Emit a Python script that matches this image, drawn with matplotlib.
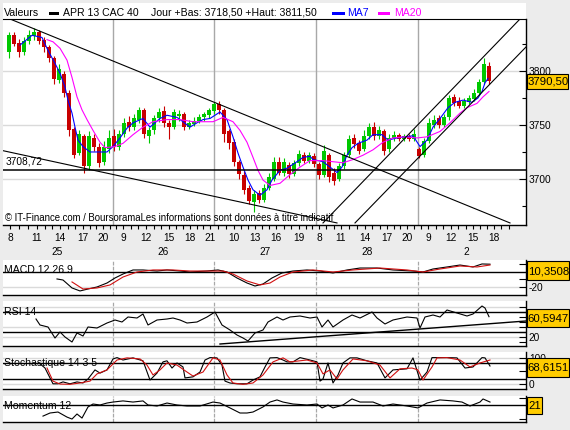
import matplotlib
matplotlib.use("Agg")
import matplotlib.pyplot as plt
from matplotlib.patches import Rectangle

plt.rcParams["font.family"] = ["Liberation Sans", "DejaVu Sans"]

W, H = 570, 430
GREEN = "#00C800"
RED = "#C80000"
GOLD = "#FFCC00"
BG = "#ECECEC"
FS = 7.3

# ---- intraday candles (one slot per candle) ----
opens = [3818, 3833, 3826, 3818, 3828, 3832, 3836, 3829, 3822, 3812,
         3792, 3797, 3780, 3746, 3724, 3740, 3712, 3738, 3730, 3716,
         3728, 3740, 3730, 3742, 3753, 3748, 3755, 3764, 3740, 3745,
         3756, 3763, 3752, 3748, 3758, 3760, 3748, 3751, 3754, 3757,
         3759, 3763, 3769, 3764, 3744, 3734, 3716, 3704, 3692, 3679,
         3687, 3681, 3692, 3700, 3716, 3706, 3713, 3705, 3715, 3722,
         3717, 3721, 3714, 3704, 3722, 3706, 3700, 3712, 3722, 3738,
         3733, 3728, 3740, 3748, 3740, 3744, 3728, 3738, 3741, 3737,
         3740, 3737, 3728, 3722, 3735, 3750, 3756, 3750, 3757, 3776,
         3772, 3768, 3771, 3774, 3780, 3790, 3805]
closes = [3833, 3825, 3818, 3828, 3833, 3836, 3828, 3822, 3812, 3793,
          3802, 3780, 3745, 3722, 3742, 3712, 3740, 3730, 3715, 3730,
          3738, 3730, 3742, 3752, 3748, 3756, 3764, 3742, 3745, 3756,
          3762, 3752, 3748, 3762, 3760, 3748, 3752, 3754, 3757, 3760,
          3764, 3769, 3764, 3742, 3733, 3716, 3705, 3690, 3680, 3686,
          3681, 3692, 3702, 3716, 3706, 3716, 3705, 3715, 3723, 3717,
          3722, 3714, 3704, 3726, 3702, 3698, 3712, 3722, 3737, 3732,
          3726, 3740, 3748, 3740, 3745, 3726, 3738, 3741, 3737, 3740,
          3737, 3742, 3721, 3735, 3752, 3755, 3750, 3757, 3775, 3770,
          3768, 3772, 3775, 3780, 3790, 3806, 3790.5]
highs = [3836, 3836, 3830, 3831, 3838, 3840, 3838, 3831, 3824, 3814,
         3806, 3800, 3782, 3748, 3745, 3742, 3744, 3742, 3733, 3735,
         3745, 3746, 3745, 3756, 3758, 3760, 3767, 3766, 3748, 3759,
         3766, 3768, 3755, 3765, 3764, 3762, 3755, 3757, 3760, 3762,
         3766, 3771, 3772, 3766, 3746, 3737, 3718, 3707, 3694, 3690,
         3690, 3695, 3706, 3720, 3720, 3719, 3716, 3718, 3727, 3725,
         3725, 3724, 3716, 3731, 3724, 3710, 3715, 3725, 3741, 3742,
         3736, 3745, 3752, 3753, 3749, 3746, 3742, 3744, 3743, 3742,
         3742, 3746, 3730, 3738, 3756, 3759, 3759, 3760, 3778, 3779,
         3776, 3775, 3778, 3783, 3793, 3812, 3808]
lows = [3812, 3823, 3813, 3815, 3825, 3829, 3825, 3818, 3808, 3788,
        3789, 3776, 3740, 3719, 3722, 3706, 3708, 3726, 3711, 3713,
        3724, 3726, 3727, 3739, 3744, 3745, 3752, 3738, 3733, 3742,
        3753, 3748, 3737, 3746, 3754, 3745, 3746, 3749, 3752, 3754,
        3756, 3760, 3760, 3734, 3728, 3712, 3700, 3686, 3677, 3669,
        3678, 3679, 3690, 3698, 3704, 3703, 3701, 3703, 3712, 3715,
        3715, 3711, 3700, 3702, 3697, 3694, 3698, 3709, 3720, 3729,
        3723, 3726, 3737, 3736, 3737, 3722, 3725, 3735, 3735, 3735,
        3735, 3735, 3719, 3720, 3733, 3747, 3747, 3748, 3755, 3768,
        3766, 3766, 3769, 3772, 3778, 3788, 3788]

# ---- moving averages ----
ma7_x = [2.2, 4.6, 6.6, 7.8, 9.2, 10.2, 11.2, 11.8, 12.6, 13.2, 13.8, 14.8, 16.2, 18.2,
         19.6, 20.8, 22.2, 23.6, 24.8, 26.8, 28.2, 29.2, 30.2, 31.6, 33.6, 34.8, 36.2,
         37.6, 38.8, 40.2, 42.2, 43.6, 44.8, 45.8, 46.8, 47.8, 48.8, 50.2, 51.6, 52.6,
         54.2, 55.6, 57.6, 58.8, 60.2, 60.8, 62.8, 64.2, 65.6, 66.6, 67.6, 68.6, 69.8,
         71.6, 72.8, 74.6, 75.8, 77.6, 79.2, 80.8, 82.2, 83.6, 84.8, 86.2, 87.8, 89.2,
         90.8, 92.6, 93.8, 94.6, 95.2, 95.8]
ma7 = [3824, 3833, 3831, 3819, 3807, 3798, 3785, 3773, 3761, 3748, 3736, 3730, 3725,
       3725, 3725, 3730, 3738, 3747, 3752, 3756, 3748, 3752, 3756, 3759, 3757, 3753,
       3748, 3752, 3755, 3756, 3762, 3755, 3739, 3724, 3711, 3699, 3690, 3685, 3690,
       3699, 3708, 3710, 3716, 3720, 3721, 3718, 3716, 3711, 3706, 3711, 3722, 3729,
       3733, 3736, 3741, 3741, 3736, 3738, 3739, 3740, 3730, 3736, 3748, 3756, 3766,
       3771, 3773, 3771, 3775, 3781, 3789, 3793]
ma20_x = [7.6, 8.8, 10.2, 11.6, 12.6, 13.6, 14.6, 15.6, 16.8, 18.2, 19.2, 21.2, 22.8,
          24.8, 26.8, 28.8, 31.6, 34.2, 36.8, 40.8, 42.8, 44.8, 46.2, 47.6, 48.8, 49.8,
          50.8, 52.2, 54.2, 56.2, 58.2, 60.2, 62.8, 64.8, 66.8, 68.8, 70.8, 72.8, 74.8,
          76.8, 79.2, 81.6, 83.6, 86.2, 88.2, 90.2, 91.6, 93.6, 94.8, 96.0]
ma20 = [3829, 3827, 3821, 3810, 3794, 3776, 3764, 3755, 3745, 3734, 3729, 3730, 3733,
        3741, 3748, 3753, 3755, 3755, 3753, 3753, 3757, 3753, 3745, 3734, 3720, 3708,
        3699, 3694, 3696, 3704, 3711, 3717, 3717, 3716, 3715, 3718, 3722, 3727, 3734,
        3738, 3739, 3738, 3739, 3744, 3752, 3761, 3766, 3770, 3776, 3781]

# ---- drawn lines: (x0, y0, x1, y1) ----
trend_lines = [(0.2, 3848.1, 100.2, 3659.3),
               (-1.2, 3726.2, 65.6, 3659.3),
               (62.8, 3659.3, 102.2, 3848.1),
               (69.2, 3659.3, 103.4, 3822.2)]
support = 3708.72

# ---- axis labels ----
hour_pos = [0.2, 5.6, 10.2, 14.8, 18.8, 22.8, 27.4, 32.0, 36.2, 40.2, 45.0, 49.2,
            53.4, 58.0, 62.0, 66.4, 71.2, 75.6, 79.6, 83.8, 88.4, 92.8, 97.0]
hour_lab = ["8", "11", "14", "17", "20", "9", "12", "15", "18", "21", "10", "13",
            "16", "19", "8", "11", "14", "17", "20", "9", "12", "15", "18"]
day_pos = [9.6, 30.8, 51.2, 71.6, 91.4]
day_lab = ["25", "26", "27", "28", "2"]
day_bounds = [20.8, 41.0, 61.4, 81.8]

# ---- MACD 12 26 9 ----
macd_x = [9.6, 10.8, 12.6, 14.2, 15.8, 17.6, 19.6, 21.2, 22.8, 24.8, 26.8, 29.6, 31.6,
          34.2, 36.2, 39.6, 41.8, 43.6, 45.6, 47.6, 49.2, 50.8, 52.6, 54.6, 56.8, 59.6,
          62.2, 64.8, 67.6, 70.2, 73.6, 76.8, 80.8, 82.8, 84.8, 87.6, 90.2, 92.8, 94.6, 96.2]
macd = [-9.3, -10.7, -21.3, -25.3, -22.7, -20, -14.7, -8, -2.7, 2.7, 2.7, 1.3, 2.7,
        1.3, 0, 1.3, 2.7, 0, -8, -14.7, -18.7, -16, -8, -1.3, 1.3, 2.7,
        1.3, -1.3, 2.7, 5.3, 5.3, 2.7, 1.3, 0, 4, 6.7, 9.3, 6.7, 10.7, 10.4]
signal_x = [12.6, 14.8, 17.6, 20.2, 22.8, 25.6, 28.8, 32.8, 36.2, 39.6, 42.8, 44.8, 47.6,
            50.2, 52.2, 54.2, 56.8, 60.8, 64.8, 68.8, 74.2, 79.6, 82.8, 86.2, 90.2, 93.6, 96.2]
signal = [-13.3, -22.7, -21.3, -17.3, -6.7, 0, 2.7, 2.7, 1.3, 1.3, 1.3, -2.7, -12,
          -17.3, -14.7, -6.7, 0, 2.7, 0, 2.7, 5.3, 2.7, 0, 4, 8, 6.7, 9.3]

# ---- RSI 14 ----
rsi_x = [5.4, 6.2, 7.8, 9.2, 10.2, 11.2, 12.6, 13.6, 14.8, 15.8, 17.6, 19.6, 21.2, 22.6,
         23.8, 25.6, 26.8, 27.8, 29.6, 31.6, 32.8, 34.2, 35.6, 37.6, 39.6, 41.2, 42.6,
         44.2, 45.6, 46.8, 47.8, 49.2, 50.8, 51.8, 53.6, 54.8, 56.2, 58.2, 60.2, 61.6,
         62.6, 63.8, 64.8, 66.8, 68.6, 70.2, 72.6, 73.6, 75.2, 76.8, 79.6, 81.6, 82.2,
         83.2, 84.8, 86.2, 87.6, 89.6, 91.6, 92.8, 94.6, 95.2, 96.0]
rsi = [56, 44, 40, 18, 30, 20, 10, 28, 22, 40, 38, 48, 54, 50,
       60, 58, 66, 44, 54, 56, 58, 54, 48, 50, 60, 70, 44,
       34, 24, 18, 12, 28, 34, 50, 60, 54, 60, 62, 58, 60,
       40, 54, 40, 54, 64, 58, 70, 58, 46, 54, 60, 58, 38,
       60, 64, 60, 74, 68, 62, 66, 82, 78, 60.6]
rsi_trend = (42.2, 6, 103.4, 52)

# ---- Stochastique 14 3 5 ----
stk_x = [6.0, 7.2, 8.2, 8.8, 9.8, 10.8, 12.2, 13.6, 14.8, 15.8, 17.2, 18.2, 19.6, 20.8,
         21.6, 22.8, 24.8, 26.8, 28.2, 29.6, 30.8, 31.6, 32.6, 33.6, 34.8, 35.2, 36.8,
         38.2, 39.2, 40.2, 41.6, 42.6, 43.2, 44.2, 45.6, 47.6, 48.8, 50.2, 51.2, 52.2,
         53.6, 54.8, 55.6, 56.8, 58.2, 60.2, 61.6, 62.2, 62.8, 63.8, 64.8, 65.8, 66.8,
         68.2, 69.6, 71.6, 73.6, 75.2, 76.8, 79.6, 80.8, 82.2, 83.6, 84.6, 86.2, 87.6,
         89.6, 91.2, 92.8, 94.6, 95.2, 96.2]
stk = [80, 61, 24, 2, 2, 9, 2, 9, 5, 20, 54, 42, 54, 95,
       100, 91, 99, 88, 16, 42, 84, 88, 61, 80, 65, 24, 28,
       46, 91, 100, 99, 72, 12, 5, 2, 2, 16, 28, 65, 99,
       100, 91, 84, 84, 100, 91, 84, 12, 20, 80, 5, 35, 80,
       99, 99, 88, 80, 24, 54, 58, 99, 16, 46, 100, 100, 100,
       99, 61, 65, 100, 99, 68.6]
std_x = [7.6, 8.8, 10.2, 12.2, 14.2, 16.2, 17.6, 19.6, 21.6, 23.6, 26.2, 27.6, 28.8,
         30.2, 31.6, 33.6, 35.6, 36.8, 38.8, 40.8, 42.2, 43.6, 44.8, 46.8, 48.8, 50.8,
         52.8, 54.8, 56.2, 59.6, 61.6, 62.8, 64.2, 65.6, 66.8, 68.8, 71.6, 74.2, 76.2,
         78.2, 80.6, 81.8, 82.8, 84.6, 85.6, 87.6, 90.2, 92.2, 94.2, 96.2]
std = [61, 12, 1, 0, 5, 12, 39, 54, 91, 99, 95, 72, 35,
       54, 80, 72, 46, 31, 46, 99, 91, 35, 5, 0, 5, 35,
       84, 99, 84, 91, 80, 39, 54, 20, 54, 95, 88, 72, 24,
       58, 61, 54, 16, 65, 99, 100, 91, 65, 80, 91]

# ---- Momentum 12 ----
mom_x = [6.8, 8.2, 9.8, 11.6, 12.6, 13.6, 14.6, 15.8, 16.8, 18.2, 19.6, 20.8, 22.8,
         24.8, 26.8, 27.8, 29.6, 31.6, 33.6, 35.6, 38.2, 40.8, 42.2, 44.2, 46.2, 47.6,
         48.8, 50.8, 52.2, 53.6, 54.8, 56.8, 59.6, 61.6, 62.6, 63.8, 64.8, 66.8, 68.6,
         70.2, 72.8, 74.8, 76.8, 79.6, 81.8, 83.6, 86.2, 88.8, 90.6, 92.2, 94.2, 94.8, 96.2]
mom = [-79, -57, -50, -86, -100, -64, -93, -14, 7, 0, 14, 21, 29,
       21, 29, 0, -7, 14, 0, -7, -7, 21, 14, -21, -57, -57,
       -50, -14, 21, 36, 21, 7, 0, 7, -21, 0, -21, 0, 43,
       21, 21, -7, 7, -7, -21, 14, 36, 29, 21, -7, 21, 43, 21]

XMIN, XMAX = -1.2, 103.4

fig = plt.figure(figsize=(W / 100, H / 100), dpi=100, facecolor=BG)


def px_axes(x0, y0, x1, y1):
    return fig.add_axes([x0 / W, 1 - y1 / H, (x1 - x0) / W, (y1 - y0) / H])


def ftext(x, y, s, **kw):
    kw.setdefault("fontsize", FS)
    return fig.text(x / W, 1 - y / H, s, **kw)


def frect(x0, y0, x1, y1, **kw):
    fig.add_artist(Rectangle((x0 / W, 1 - y1 / H), (x1 - x0) / W, (y1 - y0) / H,
                             transform=fig.transFigure, **kw))


def value_box(x0, y0, x1, y1, s):
    frect(x0, y0, x1, y1, fc=GOLD, ec="black", lw=0.8, zorder=5)
    ftext((x0 + x1) / 2 + 0.5, (y0 + y1) / 2 + 0.5, s, ha="center", va="center",
          fontsize=8.2, zorder=6)


def style(a):
    a.set_xlim(XMIN, XMAX)
    for s in ("left", "top"):
        a.spines[s].set_visible(False)
    for s in ("right", "bottom"):
        a.spines[s].set_linewidth(1.0)
    a.yaxis.tick_right()
    a.tick_params(axis="y", which="both", direction="in", labelsize=FS, pad=2,
                  width=0.8)
    a.tick_params(axis="y", which="major", length=5)
    a.tick_params(axis="y", which="minor", length=3)


# white title strip
frect(3, 3, 526, 19, fc="white", ec="none", zorder=0)

# ========== main price panel ==========
ax = px_axes(3, 19, 526, 225)
style(ax)
ax.spines["top"].set_visible(True)
ax.set_ylim(3657.4, 3848.1)
for lvl in (3700, 3750, 3800):
    ax.axhline(lvl, color="#DADADA", lw=1.0, zorder=0)
for d in day_bounds:
    ax.axvline(d, color="#A8A8A8", lw=1.0, zorder=0)

xs = list(range(len(opens)))
cols = [GREEN if c >= o else RED for o, c in zip(opens, closes)]
ax.vlines(xs, lows, highs, colors=cols, lw=0.8, zorder=2)
ax.bar(xs, [max(abs(c - o), 0.8) for o, c in zip(opens, closes)],
       bottom=[min(o, c) for o, c in zip(opens, closes)], width=0.62,
       color=cols, zorder=2)
ax.plot(ma7_x, ma7, color="#0000FF", lw=0.8, zorder=3)
ax.plot(ma20_x, ma20, color="#FF00FF", lw=0.8, zorder=3)
for x0, y0, x1, y1 in trend_lines:
    ax.plot([x0, x1], [y0, y1], color="black", lw=0.8, zorder=4)
ax.axhline(support, color="black", lw=1.1, zorder=4)
ax.text(0.004, support + 3, "3708,72", transform=ax.get_yaxis_transform(),
        fontsize=FS, va="bottom", ha="left")
ax.text(0.004, 0.035, "\u00a9 IT-Finance.com / BoursoramaLes informations sont "
        "données à titre indicatif", transform=ax.transAxes, fontsize=6.9,
        va="center", ha="left", zorder=5)

ax.set_yticks([3700, 3750, 3800], ["3700", "3750", "3800"])
ax.set_yticks([3675, 3725, 3775, 3825], minor=True)
ax.set_xticks(hour_pos, hour_lab)
minor_x = []
for a, b in zip(hour_pos[:-1], hour_pos[1:]):
    minor_x += [a + (b - a) / 3, a + 2 * (b - a) / 3]
minor_x += [hour_pos[-1] + 1.5, hour_pos[-1] + 3.0]
ax.set_xticks(minor_x, minor=True)
ax.tick_params(axis="x", which="both", direction="out", length=3, width=0.8,
               labelsize=FS, pad=3)
for p, lab in zip(day_pos, day_lab):
    ax.text(p, -0.13, lab, transform=ax.get_xaxis_transform(), fontsize=FS,
            ha="center", va="center")

# title row
TS = 7.6
ftext(4, 12.5, "Valeurs", va="center", fontsize=TS)
frect(49, 12, 59, 15, fc="black", ec="none", zorder=3)
ftext(63, 12.5, "APR 13 CAC 40", va="center", fontsize=TS)
ftext(151, 12.5, "Jour +Bas: 3718,50 +Haut: 3811,50", va="center", fontsize=TS)
frect(332, 12, 345, 15, fc="#0000FF", ec="none", zorder=3)
ftext(347, 12.5, "MA7", va="center", color="#0000FF", fontsize=TS)
frect(378, 12, 390, 15, fc="#FF00FF", ec="none", zorder=3)
ftext(394, 12.5, "MA20", va="center", color="#FF00FF", fontsize=TS)

value_box(527, 74, 568, 89, "3790,50")


def indicator(y0, y1, ylim, name, name_y):
    a = px_axes(3, y0, 526, y1)
    style(a)
    a.set_ylim(*ylim)
    a.set_xticks([])
    for d in day_bounds:
        a.axvline(d, color="#A8A8A8", lw=0.9, ls=(0, (3, 1)), zorder=0)
    ftext(4, name_y, name, va="center", zorder=6, fontsize=7.6)
    return a


# ========== MACD ==========
am = indicator(260, 295, (-30.7, 16), "MACD 12 26 9", 270)
am.axhline(-20, color="#DADADA", lw=1.0, zorder=0)
am.axhline(0, color="black", lw=1.0, zorder=1)
am.plot(macd_x, macd, color="black", lw=0.8, zorder=3)
am.plot(signal_x, signal, color="#D01010", lw=0.8, zorder=3)
am.set_yticks([10, -10, -20], ["", "", "-20"])
value_box(527, 261, 569, 280, "10,3508")

# ========== RSI ==========
ar = indicator(301, 346, (2, 92), "RSI 14", 312)
for lvl in (80, 40, 20):
    ar.axhline(lvl, color="#DADADA", lw=1.0, zorder=0)
for lvl in (70, 30):
    ar.axhline(lvl, color="black", lw=1.0, zorder=1)
ar.plot(rsi_x, rsi, color="black", lw=0.8, zorder=3)
ar.plot([rsi_trend[0], rsi_trend[2]], [rsi_trend[1], rsi_trend[3]], color="black",
        lw=1.0, zorder=3)
ar.set_yticks([80, 70, 60, 50, 40, 30, 20, 10],
              ["", "", "", "", "", "", "20", ""])
value_box(527, 309, 569, 327, "60,5947")

# ========== Stochastique ==========
asto = indicator(352, 389, (-17.5, 121), "Stochastique 14 3 5", 363)
for lvl in (100, 0):
    asto.axhline(lvl, color="#DADADA", lw=1.0, zorder=0)
for lvl in (80, 20):
    asto.axhline(lvl, color="black", lw=1.0, zorder=1)
asto.plot(stk_x, stk, color="black", lw=0.8, zorder=3)
asto.plot(std_x, std, color="#D01010", lw=0.8, zorder=3)
asto.set_yticks([100, 50, 0], ["100", "", "0"])
value_box(527, 358, 569, 377, "68,6151")

# ========== Momentum ==========
amo = indicator(396, 422, (-121, 64), "Momentum 12", 406)
amo.axhline(0, color="black", lw=1.0, zorder=1)
amo.plot(mom_x, mom, color="black", lw=0.8, zorder=3)
amo.set_yticks([50, -100], ["", ""])
value_box(527, 397, 542, 414, "21")

fig.savefig("out.png", dpi=100, facecolor=BG)
